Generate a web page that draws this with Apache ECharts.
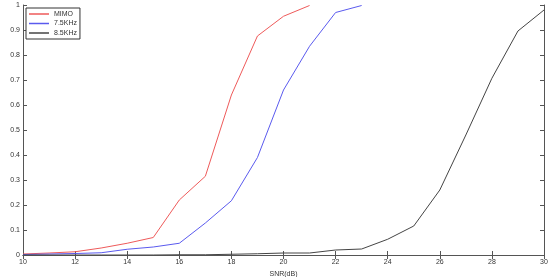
<!DOCTYPE html>
<html><head><meta charset="utf-8">
<script src="https://cdn.jsdelivr.net/npm/echarts@6/dist/echarts.min.js"></script>
<style>html,body{margin:0;padding:0;background:#fff}#c{width:550px;height:277px}</style>
</head><body><div id="c"></div>
<script>
const seriesNames = ["MIMO", "7.5KHz", "8.5KHz"];
const snrMIMO = [10, 11, 12, 13, 14, 15, 16, 17, 18, 19, 20, 21];
const valMIMO = [0.004, 0.008, 0.013, 0.028, 0.047, 0.07, 0.22, 0.315, 0.64, 0.876, 0.955, 0.998];
const snr75 = [10, 11, 12, 13, 14, 15, 16, 17, 18, 19, 20, 21, 22, 23];
const val75 = [0.002, 0.004, 0.006, 0.009, 0.023, 0.032, 0.047, 0.128, 0.217, 0.39, 0.66, 0.835, 0.97, 0.998];
const snr85 = [10, 11, 12, 13, 14, 15, 16, 17, 18, 19, 20, 21, 22, 23, 24, 25, 26, 27, 28, 29, 30];
const val85 = [0, 0, 0, 0, 0, 0, 0.001, 0.001, 0.003, 0.005, 0.008, 0.008, 0.02, 0.024, 0.063, 0.116, 0.26, 0.48, 0.707, 0.896, 0.98];
const colors = ["#ee5a5a", "#5a5aee", "#444444"];

const pair = (xs, ys) => xs.map((x, i) => [x, ys[i]]);
const font = "Liberation Sans, Arial, sans-serif";
const axisLine = { show: true, lineStyle: { color: "#555", width: 1 } };
const tick = { show: true, inside: true, length: 4, lineStyle: { color: "#555" } };
const lbl = { color: "#333", fontSize: 7, fontFamily: font };

const chart = echarts.init(document.getElementById("c"), null, { renderer: "canvas" });
chart.setOption({
  animation: false,
  grid: { left: 23, right: 6, top: 5, bottom: 22, show: false, containLabel: false, outerBoundsMode: "none" },
  legend: {
    data: seriesNames,
    orient: "vertical",
    left: 26, top: 8,
    itemWidth: 20, itemHeight: 1.5, itemGap: 1.5,
    padding: [2, 3, 2, 3],
    borderColor: "#333", borderWidth: 1,
    backgroundColor: "#fff",
    textStyle: { fontSize: 7, color: "#333", fontFamily: font, lineHeight: 8 },
    icon: "rect"
  },
  xAxis: [{
    type: "value", min: 10, max: 30, interval: 2,
    name: "SNR(dB)", nameLocation: "middle", nameGap: 11,
    nameTextStyle: { fontSize: 7, color: "#333", fontFamily: font },
    axisLine, axisTick: tick, axisLabel: Object.assign({ margin: 4 }, lbl),
    splitLine: { show: false }
  }, {
    type: "value", min: 10, max: 30, interval: 2, position: "top",
    axisLine, axisTick: tick, axisLabel: { show: false }, splitLine: { show: false }
  }],
  yAxis: [{
    type: "value", min: 0, max: 1, interval: 0.1,
    name: "Detection Probability", nameLocation: "middle", nameGap: 16,
    nameTextStyle: { fontSize: 7, color: "#333", fontFamily: font },
    axisLine, axisTick: tick,
    axisLabel: Object.assign({ margin: 3, formatter: v => String(Math.round(v * 10) / 10) }, lbl),
    splitLine: { show: false }
  }, {
    type: "value", min: 0, max: 1, interval: 0.1, position: "right",
    axisLine, axisTick: tick, axisLabel: { show: false }, splitLine: { show: false }
  }],
  series: [
    { name: seriesNames[0], type: "line", data: pair(snrMIMO, valMIMO), showSymbol: false, lineStyle: { width: 1, color: colors[0] }, itemStyle: { color: colors[0] } },
    { name: seriesNames[1], type: "line", data: pair(snr75, val75), showSymbol: false, lineStyle: { width: 1, color: colors[1] }, itemStyle: { color: colors[1] } },
    { name: seriesNames[2], type: "line", data: pair(snr85, val85), showSymbol: false, lineStyle: { width: 1, color: colors[2] }, itemStyle: { color: colors[2] } }
  ]
});
</script></body></html>
